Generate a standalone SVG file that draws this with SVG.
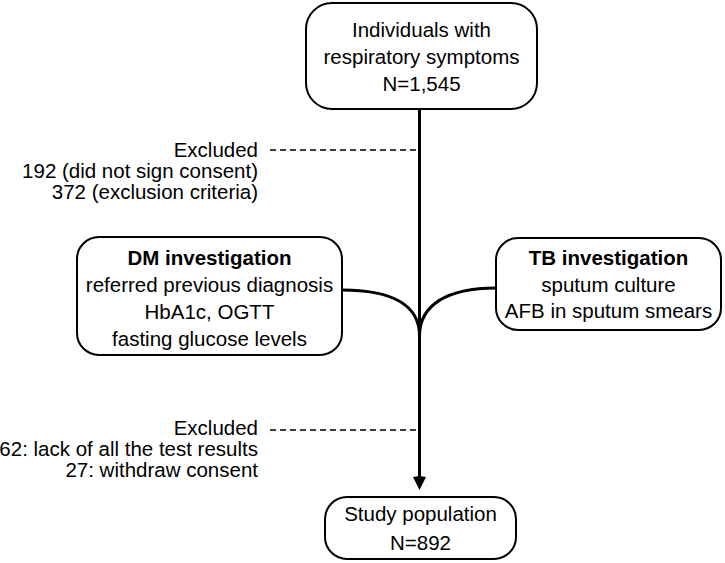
<svg xmlns="http://www.w3.org/2000/svg" width="725" height="563" viewBox="0 0 725 563">
<defs>
<style>
.box{fill:#fff;stroke:#000;stroke-width:2}
.t{font-family:"Liberation Sans",Arial,sans-serif;font-size:20.5px;fill:#000}
.m{text-anchor:middle}
.e{text-anchor:end}
.b{font-weight:bold}
.ln{fill:none;stroke:#000;stroke-width:3}
.dash{fill:none;stroke:#000;stroke-width:1.6;stroke-dasharray:6 4}
</style>
<marker id="ah" markerWidth="14" markerHeight="12" refX="12" refY="6" orient="auto" markerUnits="userSpaceOnUse">
<path d="M0,0 L12,6 L0,12 Z" fill="#000"/>
</marker>
</defs>
<g id="connectors">
<line class="ln" x1="419.5" y1="109" x2="419.5" y2="478"/>
<path d="M419.5,476 L413,477 L419.5,490 L426,477 Z" fill="#000"/>
<path class="ln" d="M342,290 C392,290 419.5,305 419.5,336"/>
<path class="ln" d="M496,288 C447,288 419.5,305 419.5,336"/>
<line class="dash" x1="270" y1="150" x2="419" y2="150"/>
<line class="dash" x1="270" y1="430" x2="419" y2="430"/>
</g>
<g id="start">
<rect class="box" x="306" y="3" width="231" height="106" rx="26"/>
<text class="t m" x="421.5" y="37">Individuals with</text>
<text class="t m" x="421.5" y="64">respiratory symptoms</text>
<text class="t m" x="421.5" y="91">N=1,545</text>
</g>
<g id="excluded1">
<text class="t e" x="258" y="157">Excluded</text>
<text class="t e" x="258" y="178">192 (did not sign consent)</text>
<text class="t e" x="258" y="199">372 (exclusion criteria)</text>
</g>
<g id="dm">
<rect class="box" x="77" y="237" width="265" height="118" rx="22"/>
<text class="t m b" x="209.5" y="265">DM investigation</text>
<text class="t m" x="209.5" y="292">referred previous diagnosis</text>
<text class="t m" x="209.5" y="319">HbA1c, OGTT</text>
<text class="t m" x="209.5" y="346">fasting glucose levels</text>
</g>
<g id="tb">
<rect class="box" x="496" y="238" width="225" height="92" rx="22"/>
<text class="t m b" x="608.5" y="265">TB investigation</text>
<text class="t m" x="608.5" y="292">sputum culture</text>
<text class="t m" x="608.5" y="318">AFB in sputum smears</text>
</g>
<g id="excluded2">
<text class="t e" x="258" y="435">Excluded</text>
<text class="t e" x="258" y="456">62: lack of all the test results</text>
<text class="t e" x="258" y="477">27: withdraw consent</text>
</g>
<g id="study">
<rect class="box" x="325" y="497" width="191" height="62" rx="22"/>
<text class="t m" x="420.5" y="521">Study population</text>
<text class="t m" x="420.5" y="550">N=892</text>
</g>
</svg>
